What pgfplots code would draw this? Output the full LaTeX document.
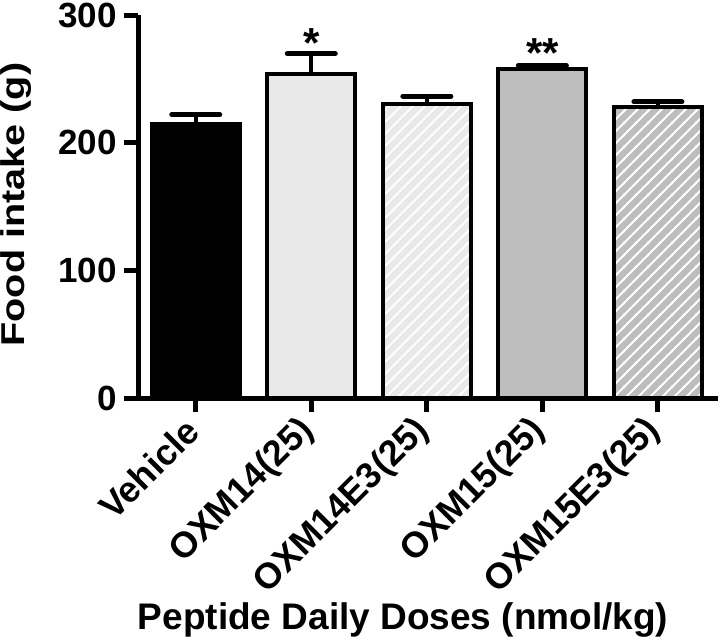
\documentclass[border=0pt]{standalone}
\usepackage{pgfplots}
\pgfplotsset{compat=1.18}
\usepackage{fontspec}
\setmainfont{Liberation Sans}
\usetikzlibrary{patterns}

\definecolor{lightbar}{HTML}{E9E9E9}
\definecolor{midbar}{HTML}{BDBDBD}

% white diagonal hatching, wider than the built-in north east lines
\pgfdeclarepatternformonly{hatch}{\pgfqpoint{-1pt}{-1pt}}{\pgfqpoint{7pt}{7pt}}{\pgfqpoint{6pt}{6pt}}{%
  \pgfsetlinewidth{1pt}%
  \pgfpathmoveto{\pgfqpoint{-0.5pt}{-0.5pt}}%
  \pgfpathlineto{\pgfqpoint{6.5pt}{6.5pt}}%
  \pgfusepath{stroke}}

\begin{document}
\begin{tikzpicture}
\begin{axis}[
    scale only axis,
    width=290pt, height=191.5pt,
    xmin=-0.5, xmax=4.52,
    ymin=0, ymax=300,
    ytick={0,100,200,300},
    xtick={0,1,2,3,4},
    xticklabels={Vehicle, OXM14(25), OXM14E3(25), OXM15(25), OXM15E3(25)},
    axis x line=bottom, axis y line=left,
    axis line style={-, line width=2.5pt},
    tick align=outside,
    major tick length=7pt,
    tick style={line width=2.5pt, black},
    /pgf/number format/assume math mode=true,
    yticklabel style={font=\bfseries\fontsize{17.5}{17.5}\selectfont},
    xticklabel style={font=\bfseries\fontsize{18}{18}\selectfont,
        yshift=-5pt, rotate=45, anchor=east, inner sep=2pt},
    xlabel={Peptide Daily Doses (nmol/kg)},
    ylabel={\scalebox{1.2}[1]{Food intake (g)}},
    xlabel style={font=\bfseries\fontsize{18.5}{18.5}\selectfont,
        at={(axis description cs:0.457,-0.6057)}, anchor=base, inner sep=0pt},
    ylabel style={font=\bfseries\fontsize{16.5}{16.5}\selectfont,
        at={(axis description cs:-0.1828,0.505)}, anchor=south, inner sep=0pt},
    every axis plot/.append style={ybar, bar width=0.76, bar shift=0pt,
        draw=black, line width=2pt},
    error bars/error bar style={line width=2pt, black},
    error bars/error mark options={rotate=90, mark size=12pt, line width=2.5pt, line cap=round, black},
]
\addplot[fill=black, error bars/.cd, y dir=plus, y explicit]
    coordinates {(0,215) +- (0,7)};
\addplot[fill=lightbar, error bars/.cd, y dir=plus, y explicit]
    coordinates {(1,253.7) +- (0,16)};
\addplot[preaction={fill=lightbar}, pattern=hatch, pattern color=white,
    error bars/.cd, y dir=plus, y explicit]
    coordinates {(2,230) +- (0,6.5)};
\addplot[fill=midbar, error bars/.cd, y dir=plus, y explicit]
    coordinates {(3,257.5) +- (0,3)};
\addplot[preaction={fill=midbar}, pattern=hatch, pattern color=white,
    error bars/.cd, y dir=plus, y explicit]
    coordinates {(4,228) +- (0,4)};

\node[anchor=base, font=\bfseries\fontsize{21}{21}\selectfont] at (axis cs:1,267) {*};
\node[anchor=base, font=\bfseries\fontsize{21}{21}\selectfont] at (axis cs:3,259) {**};
\end{axis}
\pgfresetboundingbox
\path (-69pt,-120.5pt) rectangle (292pt,199pt);
\end{tikzpicture}
\end{document}
